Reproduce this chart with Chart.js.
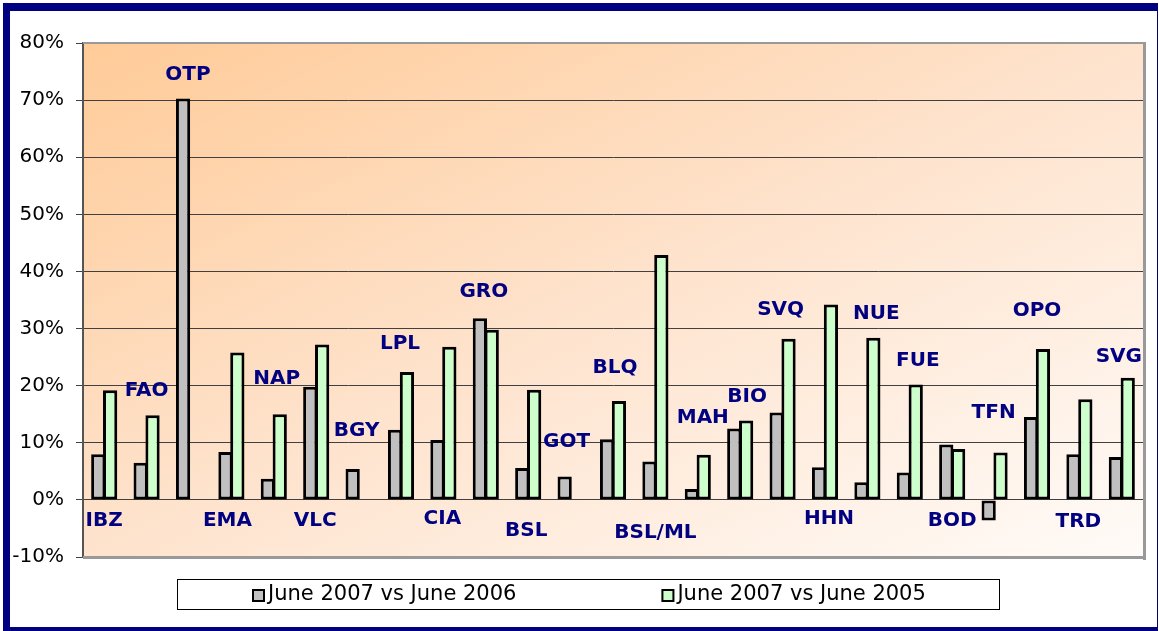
<!DOCTYPE html>
<html>
<head>
<meta charset="utf-8">
<script src="https://cdn.jsdelivr.net/npm/chart.js@4/dist/chart.umd.min.js"></script>
<style>
  html, body { margin: 0; padding: 0; background: #fff; overflow: hidden; }
  #wrap { position: relative; width: 1159px; height: 631px; }
</style>
</head>
<body>
<div id="wrap"><canvas id="chart"></canvas></div>
<script>
// airport codes, one per group of bars
const categories = ["IBZ", "FAO", "OTP", "EMA", "NAP", "VLC", "BGY", "LPL", "CIA", "GRO",
  "BSL", "GOT", "BLQ", "BSL/ML", "MAH", "BIO", "SVQ", "HHN", "NUE", "FUE",
  "BOD", "TFN", "OPO", "TRD", "SVG"];

// growth in %
const vs2006 = [8.0, 6.5, 70.3, 8.4, 3.7, 19.8, 5.4, 12.3, 10.5, 31.8,
  5.6, 4.1, 10.6, 6.7, 1.9, 12.5, 15.3, 5.7, 3.1, 4.8,
  9.7, -3.6, 14.5, 8.0, 7.5];
const vs2005 = [19.2, 14.8, null, 25.8, 15.0, 27.2, null, 22.4, 26.8, 29.8,
  19.3, null, 17.3, 42.9, 7.9, 13.9, 28.2, 34.2, 28.4, 20.2,
  8.9, 8.3, 26.4, 17.6, 21.4];

const seriesNames = ["June 2007 vs June 2006", "June 2007 vs June 2005"];
const yMin = -10, yMax = 80, yStep = 10;

// where each code label sits (value on the y scale) and a small sideways nudge in px
const labelLevel = [-3.7, 19.1, 74.4, -3.7, 21.2, -3.7, 12.1, 27.3, -3.3, 36.4,
  -5.4, 10.2, 23.1, -5.8, 14.4, 18.0, 33.3, -3.3, 32.6, 24.3,
  -3.7, 15.2, 33.1, -3.9, 25.0];
const labelNudge = [0, 0, -1, -4, 3, -1, -2, -1, -1, -2,
  -2, -4, 2, 0, 5, 7, -2, 4, 9, 8,
  0, -1, 0, -1, -3];

const FONT = "'DejaVu Sans', Verdana, sans-serif";

const frame = {
  id: "frame",
  beforeDraw(chart) {
    const { ctx, chartArea: a } = chart;
    ctx.save();
    ctx.fillStyle = "#fff";
    ctx.fillRect(0, 0, chart.width, chart.height);
    // corner-to-corner fill, like the spreadsheet's diagonal gradient
    ctx.translate(a.left, a.top);
    ctx.scale(a.right - a.left, a.bottom - a.top);
    const g = ctx.createLinearGradient(0, 0, 1, 1);
    g.addColorStop(0, "#ffcb98");
    g.addColorStop(0.5, "#fee3cd");
    g.addColorStop(1, "#fffbf8");
    ctx.fillStyle = g;
    ctx.fillRect(0, 0, 1, 1);
    ctx.restore();
  },
  afterDraw(chart) {
    const { ctx, chartArea: a } = chart;
    ctx.save();
    // plot border + shadow
    ctx.fillStyle = "#999";
    ctx.fillRect(a.left, a.top - 1, a.right - a.left + 3, 2);
    ctx.fillRect(a.right, a.top - 1, 3, a.bottom - a.top + 4);
    ctx.fillRect(a.left, a.bottom - 1, a.right - a.left + 3, 3);
    // navy page frame
    ctx.fillStyle = "#000080";
    ctx.fillRect(3, 3, 1155, 8);
    ctx.fillRect(3, 3, 7, 628);
    ctx.fillRect(1157, 3, 1, 628);
    ctx.fillRect(3, 627, 1155, 4);
    ctx.restore();
  },
};

const codeLabels = {
  id: "codeLabels",
  afterDatasetsDraw(chart) {
    const { ctx, scales } = chart;
    ctx.save();
    ctx.font = "bold 20px " + FONT;
    ctx.fillStyle = "#000080";
    ctx.textAlign = "center";
    ctx.textBaseline = "middle";
    chart.data.labels.forEach((code, i) => {
      const x = scales.x.getPixelForValue(i) + labelNudge[i];
      const y = scales.y.getPixelForValue(labelLevel[i]);
      ctx.fillText(code, x, y);
    });
    ctx.restore();
  },
};

const boxLegend = {
  id: "boxLegend",
  afterDraw(chart) {
    const { ctx } = chart;
    const box = { left: 177, top: 579, width: 822, height: 30 };
    ctx.save();
    ctx.strokeStyle = "#000";
    ctx.lineWidth = 1;
    ctx.strokeRect(box.left + 0.5, box.top + 0.5, box.width, box.height);
    ctx.font = "21px " + FONT;
    ctx.textBaseline = "middle";
    ctx.textAlign = "left";
    const mark = 13, gapText = 3, gapItems = 145;
    const items = chart.data.datasets.map((ds) => ({
      text: ds.label,
      color: ds.backgroundColor,
      w: mark + gapText + ctx.measureText(ds.label).width,
    }));
    const total = items.reduce((s, it) => s + it.w, 0) + gapItems * (items.length - 1);
    let x = Math.round(box.left + box.width / 2 - total / 2 + 1);
    const cy = box.top + box.height / 2 + 1;
    items.forEach((it) => {
      const top = Math.round(cy - mark / 2);
      ctx.fillStyle = it.color;
      ctx.fillRect(x, top, mark, mark);
      ctx.lineWidth = 2;
      ctx.strokeStyle = "#000";
      ctx.strokeRect(x + 1, top + 1, mark - 2, mark - 2);
      ctx.fillStyle = "#000";
      ctx.fillText(it.text, x + mark + gapText, cy);
      x += it.w + gapItems;
    });
    ctx.restore();
  },
};

new Chart(document.getElementById("chart"), {
  type: "bar",
  data: {
    labels: categories,
    datasets: [
      {
        label: seriesNames[0],
        data: vs2006,
        backgroundColor: "#c0c0c0",
        borderColor: "#000",
        borderWidth: 3,
        borderSkipped: false,
      },
      {
        label: seriesNames[1],
        data: vs2005,
        backgroundColor: "#ccffcc",
        borderColor: "#000",
        borderWidth: 3,
        borderSkipped: false,
      },
    ],
  },
  options: {
    responsive: true,
    maintainAspectRatio: false,
    animation: false,
    layout: { padding: { left: 0, top: 43, right: 16, bottom: 74 } },
    datasets: {
      bar: { categoryPercentage: 0.56, barPercentage: 1.2 },
    },
    plugins: {
      legend: { display: false },
      tooltip: { enabled: false },
    },
    scales: {
      x: {
        ticks: { display: false },
        grid: { display: false },
        border: { display: false },
        afterFit(scale) {
          scale.height = 0;
        },
      },
      y: {
        min: yMin,
        max: yMax,
        ticks: {
          stepSize: yStep,
          padding: 12,
          color: "#000",
          font: { family: FONT, size: 20 },
          callback: (v) => v + "%",
        },
        grid: {
          color: "#404040",
          lineWidth: 1,
          tickLength: 7,
          tickColor: "#404040",
        },
        border: { color: "#555", width: 2 },
        afterFit(scale) {
          scale.width = 83;
        },
      },
    },
  },
  plugins: [frame, codeLabels, boxLegend],
});
</script>
</body>
</html>
